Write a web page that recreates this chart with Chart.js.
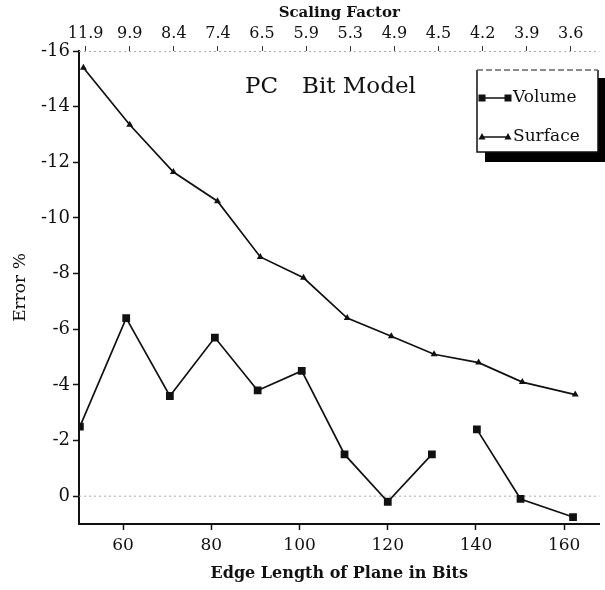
<!DOCTYPE html>
<html>
<head>
<meta charset="utf-8">
<title>PC Bit Model</title>
<script src="https://cdn.jsdelivr.net/npm/chart.js@4.4.1/dist/chart.umd.min.js"></script>
<style>
html, body { margin: 0; padding: 0; background: #fff; }
</style>
</head>
<body>
<canvas id="errChart" width="605" height="590"></canvas>
<script>
// values (edge length in bits vs error %)
var volumeX = [50.2, 60.7, 70.6, 80.8, 90.5, 100.5, 110.2, 120, 130, 140.2, 150.1, 162];
var volumeY = [-2.5, -6.4, -3.6, -5.7, -3.8, -4.5, -1.5, 0.2, -1.5, -2.4, 0.1, 0.75];
var surfaceX = [51, 61.5, 71.4, 81.4, 91.1, 100.9, 110.8, 120.8, 130.5, 140.6, 150.5, 162.5];
var surfaceY = [-15.4, -13.35, -11.65, -10.6, -8.6, -7.85, -6.4, -5.75, -5.1, -4.8, -4.1, -3.65];

var edgeTicks = [60, 80, 100, 120, 140, 160];
var errorTicks = [-16, -14, -12, -10, -8, -6, -4, -2, 0];
var scalingPos = [51.5, 61.5, 71.5, 81.5, 91.5, 101.5, 111.5, 121.5, 131.5, 141.5, 151.5, 161.5];
var scalingLabels = ['11.9', '9.9', '8.4', '7.4', '6.5', '5.9', '5.3', '4.9', '4.5', '4.2', '3.9', '3.6'];

var volumeGapAfter = 130;   // no line drawn between 130 and 140
var volumeDashFrom = 150;   // last piece is faint / dashed

function pts(xs, ys) {
    return xs.map(function (x, i) { return { x: x, y: ys[i] }; });
}

Chart.defaults.font.family = "'DejaVu Serif', 'Liberation Serif', serif";
Chart.defaults.color = '#111';

// zero line, top border, title and the boxed legend
var extras = {
    id: 'extras',
    beforeDatasetsDraw: function (chart) {
        var ctx = chart.ctx, a = chart.chartArea;
        var y0 = chart.scales.y.getPixelForValue(0);
        ctx.save();
        ctx.strokeStyle = '#aaa';
        ctx.lineWidth = 1;
        ctx.setLineDash([2, 3]);
        ctx.beginPath();
        ctx.moveTo(a.left, y0);
        ctx.lineTo(a.right, y0);
        ctx.stroke();
        ctx.beginPath();
        ctx.moveTo(a.left, a.top + 0.5);
        ctx.lineTo(a.right, a.top + 0.5);
        ctx.stroke();
        ctx.restore();
    },
    afterDraw: function (chart) {
        var ctx = chart.ctx;
        ctx.save();
        ctx.fillStyle = '#111';
        ctx.font = "23px 'DejaVu Serif', serif";
        ctx.textBaseline = 'middle';
        ctx.textAlign = 'left';
        ctx.fillText('PC', 245, 87);
        ctx.fillText('Bit Model', 302, 87);

        // legend box with shadow
        var bx = 477, by = 70, bw = 121, bh = 82;
        ctx.fillStyle = '#000';
        ctx.fillRect(bx + 8, by + 8, bw, bh + 2);
        ctx.fillStyle = '#fff';
        ctx.fillRect(bx, by, bw, bh);
        ctx.strokeStyle = '#111';
        ctx.lineWidth = 1.5;
        ctx.beginPath();
        ctx.moveTo(bx, by);
        ctx.lineTo(bx, by + bh);
        ctx.lineTo(bx + bw, by + bh);
        ctx.lineTo(bx + bw, by);
        ctx.stroke();
        ctx.strokeStyle = '#666';
        ctx.setLineDash([6, 3]);
        ctx.beginPath();
        ctx.moveTo(bx, by);
        ctx.lineTo(bx + bw, by);
        ctx.stroke();
        ctx.setLineDash([]);

        var rows = [
            { label: chart.data.datasets[0].label, y: 98, mark: 'rect' },
            { label: chart.data.datasets[1].label, y: 137, mark: 'tri' }
        ];
        rows.forEach(function (r) {
            ctx.strokeStyle = '#111';
            ctx.lineWidth = 1.5;
            ctx.beginPath();
            ctx.moveTo(482, r.y);
            ctx.lineTo(508, r.y);
            ctx.stroke();
            ctx.fillStyle = '#111';
            [482, 508].forEach(function (px) {
                if (r.mark === 'rect') {
                    ctx.fillRect(px - 3.5, r.y - 3.5, 7, 7);
                } else {
                    ctx.beginPath();
                    ctx.moveTo(px, r.y - 4);
                    ctx.lineTo(px + 3.5, r.y + 2.5);
                    ctx.lineTo(px - 3.5, r.y + 2.5);
                    ctx.closePath();
                    ctx.fill();
                }
            });
            ctx.font = "17px 'DejaVu Serif', serif";
            ctx.fillText(r.label, 513, r.y);
        });
        ctx.restore();
    }
};

var errCtx = document.getElementById('errChart').getContext('2d');
var errChart = new Chart(errCtx, {
    type: 'line',
    data: {
        datasets: [{
            label: 'Volume',
            data: pts(volumeX, volumeY),
            borderColor: '#111',
            backgroundColor: '#111',
            borderWidth: 1.7,
            pointStyle: 'rect',
            pointRadius: 5.5,
            pointBorderWidth: 0,
            tension: 0,
            segment: {
                borderColor: function (c) {
                    if (c.p0.parsed.x === volumeGapAfter) return 'transparent';
                    if (c.p0.parsed.x === volumeDashFrom) return '#555';
                    return undefined;
                },
                borderDash: function (c) {
                    return c.p0.parsed.x === volumeDashFrom ? [4, 3] : undefined;
                }
            }
        }, {
            label: 'Surface',
            data: pts(surfaceX, surfaceY),
            borderColor: '#111',
            backgroundColor: '#111',
            borderWidth: 1.7,
            pointStyle: 'triangle',
            pointRadius: 4,
            pointBorderWidth: 0,
            tension: 0
        }]
    },
    options: {
        responsive: false,
        animation: false,
        layout: { padding: { left: 0, right: 2, top: 0, bottom: 0 } },
        plugins: {
            legend: { display: false },
            tooltip: { enabled: false }
        },
        scales: {
            x: {
                type: 'linear',
                position: 'bottom',
                min: 50,
                max: 168,
                afterBuildTicks: function (s) { s.ticks = edgeTicks.map(function (v) { return { value: v }; }); },
                afterFit: function (s) { s.height = 66; },
                ticks: { font: { size: 17 }, padding: 5, maxRotation: 0 },
                grid: { drawOnChartArea: false, tickLength: 6, tickColor: '#111', tickWidth: 1.5 },
                border: { color: '#111', width: 2 },
                title: {
                    display: true,
                    text: 'Edge Length of Plane in Bits',
                    font: { size: 16, weight: 'bold' },
                    padding: { top: 0, bottom: 7 }
                }
            },
            x2: {
                type: 'linear',
                position: 'top',
                min: 50,
                max: 168,
                afterBuildTicks: function (s) { s.ticks = scalingPos.map(function (v) { return { value: v }; }); },
                afterFit: function (s) { s.height = 51; },
                ticks: {
                    font: { size: 16 },
                    padding: 3,
                    maxRotation: 0,
                    callback: function (v, i) { return scalingLabels[i]; }
                },
                grid: { drawOnChartArea: false, tickLength: 5, tickColor: '#333', tickWidth: 1 },
                border: { display: false },
                title: {
                    display: true,
                    text: 'Scaling Factor',
                    font: { size: 15, weight: 'bold' },
                    padding: { top: 4, bottom: 0 }
                }
            },
            y: {
                type: 'linear',
                reverse: true,
                min: -16,
                max: 1,
                afterBuildTicks: function (s) { s.ticks = errorTicks.map(function (v) { return { value: v }; }); },
                afterFit: function (s) { s.width = 79; },
                ticks: { font: { size: 18 }, padding: 3 },
                grid: { drawOnChartArea: false, tickLength: 6, tickColor: '#111', tickWidth: 1.5 },
                border: { color: '#111', width: 2 },
                title: {
                    display: true,
                    text: 'Error %',
                    font: { size: 17 },
                    padding: { top: 10, bottom: 0 }
                }
            }
        }
    },
    plugins: [extras]
});
</script>
</body>
</html>
